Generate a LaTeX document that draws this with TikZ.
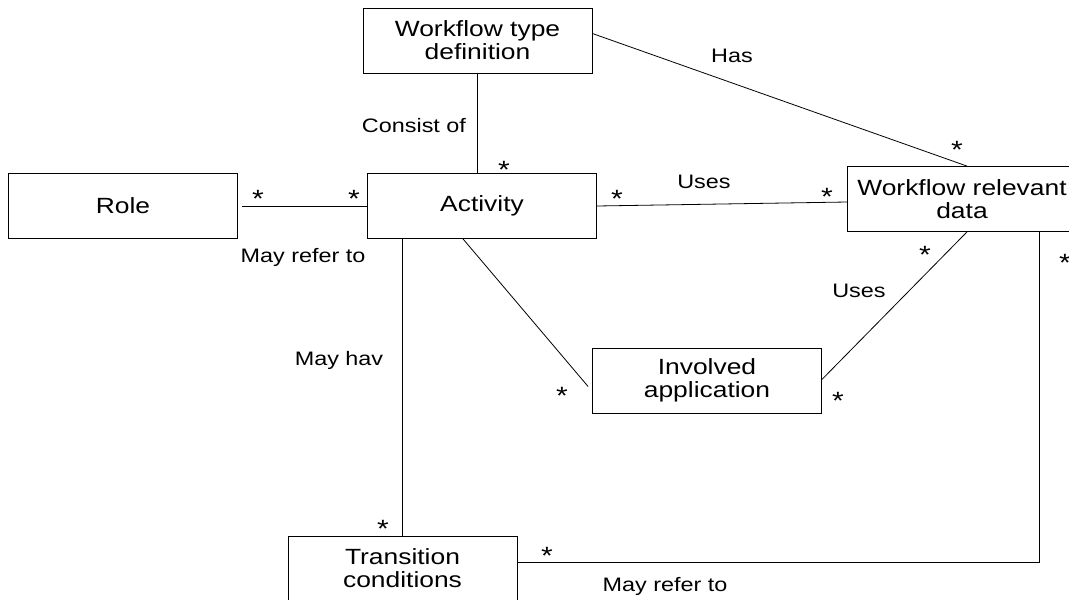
\documentclass[tikz,border=0pt]{standalone}
\usepackage{fontspec}
\setmainfont{Liberation Sans}[FakeStretch=1.2]
\usepackage{tikz}

\begin{document}
\begin{tikzpicture}[x=1pt,y=-1pt,line width=0.8pt,
  box/.style={draw,minimum width=229pt,minimum height=65pt,inner sep=0pt,
    align=center,font=\fontsize{22}{23}\selectfont},
  lbl/.style={font=\fontsize{19.5}{20}\selectfont},
  star/.style={anchor=base,inner sep=0pt,font=\fontsize{25}{26}\selectfont}]
\useasboundingbox (0,0) rectangle (1069,600);
\clip (0,0) rectangle (1069,600);
% classes
\node[box] (wtd) at (477.5,40.5) {Workflow type\\definition};
\node[box] (role) at (123,206) {Role};
\node[box] (act) at (482,206) {Activity};
\node[box] (wrd) at (962,199) {Workflow relevant\\data};
\node[box] (app) at (707,380.5) {Involved\\application};
\node[box] (trans) at (402.5,568.5) {Transition\\conditions};
% associations
\draw (wtd.south) -- (wtd.south |- act.north);
\draw ([yshift=7pt]wtd.east) -- ([xshift=5pt]wrd.north);
\draw ([xshift=4pt]role.east) -- (act.west);
\draw (act.east) -- ([yshift=-3pt]wrd.west);
\draw ([xshift=-19pt]act.south) -- ([xshift=-4pt,yshift=-6pt]app.west);
\draw (trans.north) -- (trans.north |- act.south);
\draw ([xshift=5pt]wrd.south) -- ([yshift=1pt]app.east);
\draw ([xshift=77pt]wrd.south) |- ([yshift=6.5pt]trans.east);
% labels
\node[lbl] (l1) at (414,126) {Consist of};
\node[lbl] (l2) at (732,56) {Has};
\node[lbl] (l3) at (704,182) {Uses};
\node[lbl] (l4) at (303,257) {May refer to};
\node[lbl] (l5) at (859,291) {Uses};
\node[lbl] (l6) at (339,360) {May hav};
\node[lbl] (l7) at (665,586) {May refer to};
% multiplicities
\foreach \x/\y in {504/164,617/193,354/193,258/193,827/191,957/144,
    925/249,1065/257,838/395,562/390,383/523,547/550}
  \node[star] at (\x,\y+14) {*};
\end{tikzpicture}
\end{document}
